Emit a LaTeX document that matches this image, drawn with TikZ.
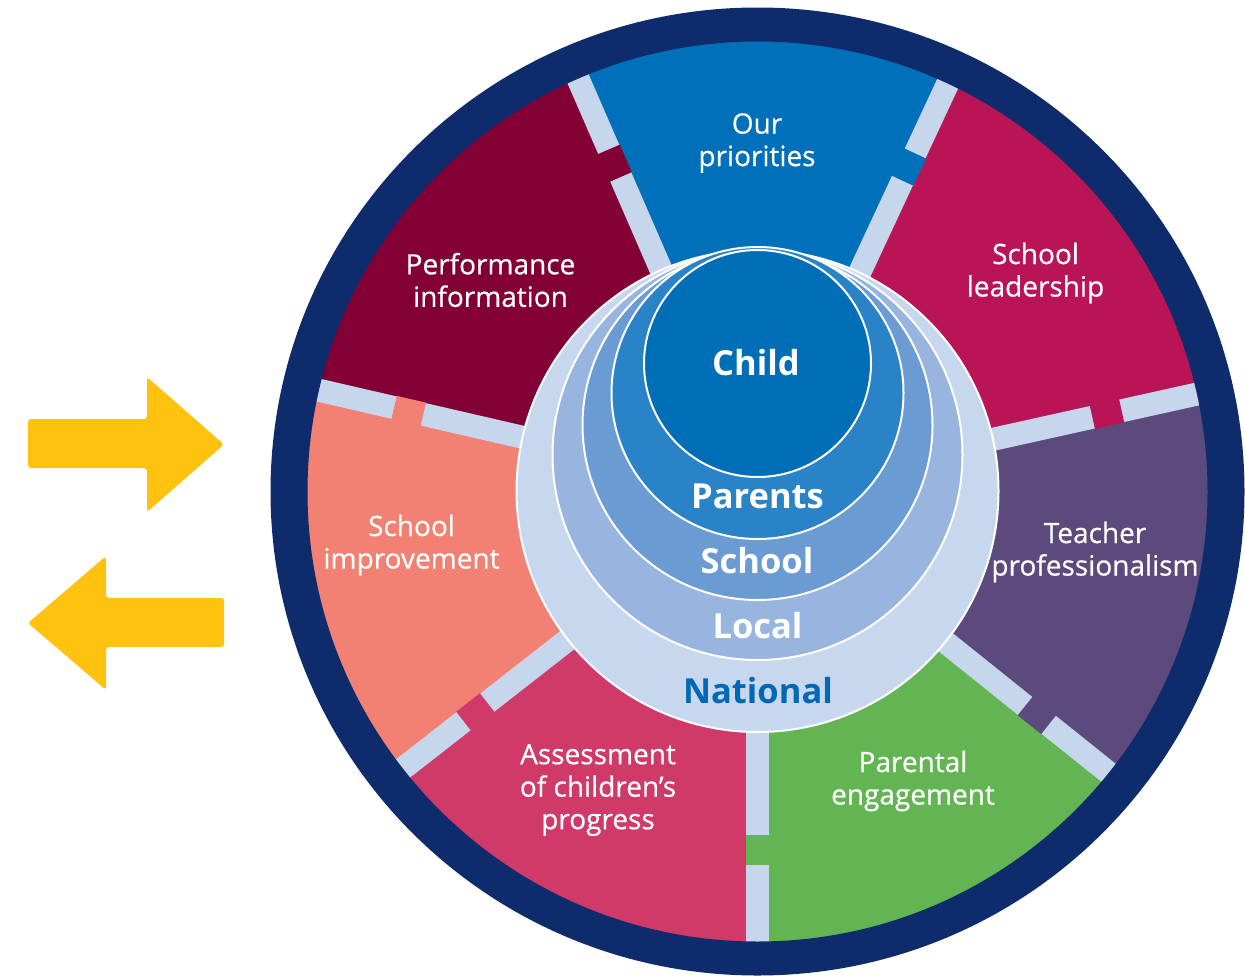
\documentclass[tikz,border=0pt]{standalone}
\usepackage{fontspec}
\setmainfont{Open Sans}
\newfontfamily\lblfont[FakeBold=0.5]{Open Sans}
\definecolor{navy}{HTML}{0E2C6C}
\definecolor{pale}{HTML}{C6D7ED}
\definecolor{prio}{HTML}{0070BA}
\definecolor{perf}{HTML}{820034}
\definecolor{lead}{HTML}{B91556}
\definecolor{teach}{HTML}{5C4A7D}
\definecolor{paren}{HTML}{63B553}
\definecolor{assess}{HTML}{CF3A68}
\definecolor{improv}{HTML}{F28173}
\definecolor{childc}{HTML}{006DB7}
\definecolor{parentc}{HTML}{2A83C7}
\definecolor{schoolc}{HTML}{6A9BD3}
\definecolor{localc}{HTML}{98B5DF}
\definecolor{natc}{HTML}{C7D8EE}
\definecolor{nattext}{HTML}{0068B4}
\definecolor{arrowc}{HTML}{FFC20F}
\tikzset{
  lbl/.style={text=white, align=center, inner sep=0pt, font=\lblfont\fontsize{28}{32.5}\selectfont},
  ring/.style={circle, draw=white, line width=2pt, inner sep=0pt},
  ringlbl/.style={text=white, anchor=base, inner sep=0pt, font=\fontsize{34.5}{38}\selectfont\bfseries},
  bigarrow/.style={fill=arrowc, rounded corners=3pt},
}
\newcommand{\mydivider}[2]{%
  \begin{scope}[shift={(C)}, rotate=#1]
    \fill[pale] (228,-11.5) rectangle (452,11.5);
    \fill[#2] (343,-12) rectangle (373,12);
  \end{scope}}
\newcommand{\mywedge}[3]{%
  \fill[#1] (C) -- ++(#2:452) arc[start angle=#2, end angle=#3, radius=452] -- cycle;}
\begin{document}
\begin{tikzpicture}[x=1pt, y=1pt]
\useasboundingbox (0,0) rectangle (1245,-977);
\coordinate (C) at (757.5,-491.5);
% sectors
\mywedge{prio}{65}{113.5}
\mywedge{perf}{113.5}{167}
\mywedge{improv}{167}{218}
\mywedge{assess}{218}{270}
\mywedge{paren}{270}{321.3}
\mywedge{teach}{321.3}{372.5}
\mywedge{lead}{12.5}{65}
% dividers with tabs
\mydivider{113.5}{perf}
\mydivider{65}{prio}
\mydivider{12.5}{lead}
\mydivider{-38.7}{teach}
\mydivider{-90}{paren}
\mydivider{-142}{assess}
\mydivider{167}{improv}
% navy rim
\fill[navy, even odd rule] (C) ellipse[x radius=487, y radius=484] (C) circle[radius=450];
% nested circles
\node[ring, fill=natc, minimum size=482pt] (national) at (757.5,-491) {};
\node[ring, fill=localc, minimum size=410pt] (local) at (757.5,-455) {};
\node[ring, fill=schoolc, minimum size=350pt] (school) at (757.5,-425) {};
\node[ring, fill=parentc, minimum size=292pt] (parents) at (757.5,-393) {};
\node[ring, fill=childc, minimum size=227pt] (child) at (757.5,-363.5) {};
% ring labels
\node[ringlbl] (tchild) at (756,-375) {Child};
\node[ringlbl] (tparents) at (757.5,-508) {Parents};
\node[ringlbl] (tschool) at (757,-573) {School};
\node[ringlbl] (tlocal) at (757.5,-638) {Local};
\node[ringlbl, text=nattext] (tnational) at (758,-703) {National};
% sector labels
\node[lbl] (lprio) at (757,-143) {Our\\priorities};
\node[lbl] (lperf) at (490.5,-280) {Performance\\information};
\node[lbl] (llead) at (1035.5,-273) {School\\leadership};
\node[lbl] (lteach) at (1095,-552) {Teacher\\professionalism};
\node[lbl] (limprov) at (411.5,-545) {School\\improvement};
\node[lbl] (lparen) at (913,-781) {Parental\\engagement};
\node[lbl] (lassess) at (598,-790) {Assessment\\of children’s\\progress};
% arrows
\fill[bigarrow] (28,-419) -- (147,-419) -- (147,-377) -- (224,-444.5) -- (147,-512) -- (147,-468) -- (28,-468) -- cycle;
\fill[bigarrow] (224,-598) -- (106,-598) -- (106,-556) -- (28,-623) -- (106,-690) -- (106,-647) -- (224,-647) -- cycle;
\end{tikzpicture}
\end{document}
